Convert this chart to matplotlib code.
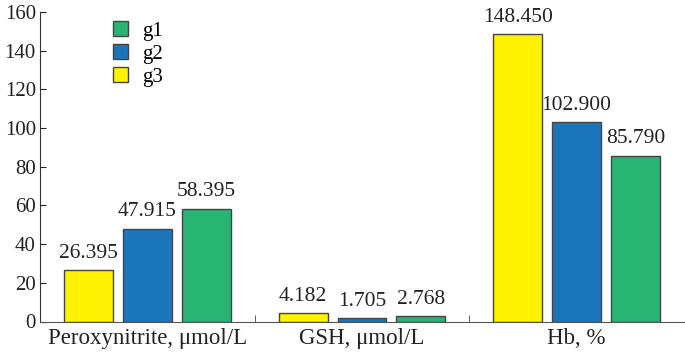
import numpy as np
import matplotlib.pyplot as plt

plt.rcParams['font.family'] = ['Liberation Serif', 'DejaVu Serif']

# Datos
categorias = ["Peroxynitrite, \u03bcmol/L", "GSH, \u03bcmol/L", "Hb, %"]
g1 = [58.395, 2.768, 85.790]
g2 = [47.915, 1.705, 102.900]
g3 = [26.395, 4.182, 148.450]
etiquetas_g1 = ["58.395", "2.768", "85.790"]
etiquetas_g2 = ["47.915", "1.705", "102.900"]
etiquetas_g3 = ["26.395", "4.182", "148.450"]

amarillo = "#FFF200"
azul = "#1B75BB"
verde = "#28B574"

x = np.arange(len(categorias))
ancho = 0.228
paso = 0.274

fig = plt.figure(figsize=(6.85, 3.53), dpi=100)
ax = fig.add_axes([40 / 685, 1 - 321.5 / 353, 644 / 685, 309.5 / 353])

b3 = ax.bar(x - paso, g3, ancho, color=amarillo, edgecolor="#444444", linewidth=1, label="g3")
b2 = ax.bar(x, g2, ancho, color=azul, edgecolor="#444444", linewidth=1, label="g2")
b1 = ax.bar(x + paso, g1, ancho, color=verde, edgecolor="#444444", linewidth=1, label="g1")

for barras, textos in [(b3, etiquetas_g3), (b2, etiquetas_g2), (b1, etiquetas_g1)]:
    ax.bar_label(barras, labels=textos, padding=5.5, fontsize=15.5, color="#222222")

ax.set_xlim(-0.5, 2.5)
ax.set_ylim(0, 160)
ax.set_yticks(np.arange(0, 161, 20))
ax.set_xticks(x)
ax.set_xticklabels(categorias)
ax.set_xticks([0.5, 1.5], minor=True)
ax.tick_params(axis="x", which="major", length=0, labelsize=16.5, pad=5, colors="#222222")
ax.tick_params(axis="x", which="minor", direction="in", length=5, color="#444444")
ax.tick_params(axis="y", direction="in", length=4, labelsize=15, pad=3, colors="#222222")

for lado in ["top", "right"]:
    ax.spines[lado].set_visible(False)
ax.spines["left"].set_color("#333333")
ax.spines["bottom"].set_color("#555555")

handles = [b1, b2, b3]
ax.legend(handles, ["g1", "g2", "g3"], loc="upper left", bbox_to_anchor=(0.113, 0.972),
          frameon=False, fontsize=15, handlelength=0.75, handleheight=0.75,
          labelspacing=0.15, handletextpad=0.65, borderpad=0, borderaxespad=0)

plt.savefig("out.png", dpi=100)
